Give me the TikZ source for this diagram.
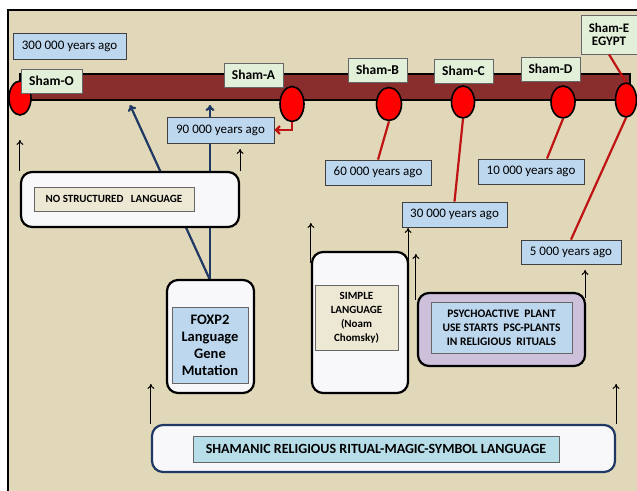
\documentclass[tikz,border=0pt]{standalone}
\usepackage{fontspec}
\setmainfont{Carlito}
\usetikzlibrary{shapes.geometric,calc,arrows.meta}
\definecolor{bgbeige}{RGB}{224,216,184}
\definecolor{barred}{RGB}{137,45,45}
\definecolor{lgreen}{RGB}{226,239,217}
\definecolor{lblue}{RGB}{189,215,238}
\definecolor{lcyan}{RGB}{183,222,232}
\definecolor{lav}{RGB}{204,192,218}
\definecolor{navy}{RGB}{31,56,100}
\definecolor{linered}{RGB}{192,20,20}
\definecolor{boxwhite}{RGB}{248,248,250}
\tikzset{
  shamlbl/.style={draw=gray!80!black, line width=0.8pt, fill=lgreen, font=\bfseries\fontsize{13.5}{14}\selectfont, inner sep=0pt, align=center},
  yearlbl/.style={draw=black!75, line width=0.8pt, fill=lblue, font=\fontsize{13}{14}\selectfont, inner sep=0pt},
  dot/.style={ellipse, draw=black, line width=1.6pt, fill=red, inner sep=0pt},
  outerbox/.style={draw=black, line width=2.2pt, fill=boxwhite, rounded corners=11pt, inner sep=0pt},
  innerbox/.style={draw=black!60, line width=0.8pt, inner sep=0pt, align=center, font=\bfseries},
  uparrow/.style={-{To[length=5pt,width=7pt]}, line width=1pt, black},
  bluearrow/.style={-{To[length=6pt,width=9pt]}, line width=2.2pt, navy},
  redline/.style={line width=2.2pt, linered}
}
\begin{document}
\begin{tikzpicture}[x=1pt,y=-1pt]
\useasboundingbox (0,0) rectangle (637,490);
\fill[white] (0,0) rectangle (637,490);
\fill[bgbeige] (8,10) rectangle (640,495);
\draw[line width=2pt] (8,492) -- (8,10) -- (640,10);

% timeline bar
\draw[fill=barred, line width=2pt] (20,74) rectangle (630,100);

% circles
\node[dot, minimum width=22pt, minimum height=34pt] (cO) at (20,98) {};
\node[dot, minimum width=24pt, minimum height=35pt] (cA) at (292,104) {};
\node[dot, minimum width=25pt, minimum height=33pt] (cB) at (389,104) {};
\node[dot, minimum width=23pt, minimum height=32pt] (cC) at (463,102) {};
\node[dot, minimum width=24pt, minimum height=32pt] (cD) at (563,102) {};
\node[dot, minimum width=21pt, minimum height=34pt] (cE) at (626,100) {};

% sham labels
\node[shamlbl, minimum width=61pt, minimum height=24pt] (sO) at (51.5,81) {Sham-O};
\node[shamlbl, minimum width=59pt, minimum height=24pt] (sA) at (253.5,75) {Sham-A};
\node[shamlbl, minimum width=59pt, minimum height=24pt] (sB) at (377.5,70) {Sham-B};
\node[shamlbl, minimum width=59pt, minimum height=24pt] (sC) at (463.5,71) {Sham-C};
\node[shamlbl, minimum width=59pt, minimum height=24pt] (sD) at (550.5,69) {Sham-D};
\node[shamlbl, minimum width=56pt, minimum height=39pt, font=\bfseries\fontsize{13}{13}\selectfont] (sE) at (609,34.5) {Sham-E\\EGYPT};

% blue arrows (behind boxes)
\coordinate (bt1) at (130,105);
\coordinate (bt2) at (210,105);
\coordinate (fxtop) at (210,280);
\draw[bluearrow] (fxtop) -- (bt1);
\draw[bluearrow] (fxtop) -- (bt2);

% year labels
\node[yearlbl, minimum width=113pt, minimum height=26pt] (y300) at (69.5,46) {300 000 years ago};
\node[yearlbl, minimum width=107pt, minimum height=26pt] (y90) at (220.5,130) {90 000 years ago};
\node[yearlbl, minimum width=106pt, minimum height=25pt] (y60) at (378,172.5) {60 000 years ago};
\node[yearlbl, minimum width=106pt, minimum height=25pt] (y10) at (531,171.5) {10 000 years ago};
\node[yearlbl, minimum width=105pt, minimum height=25pt] (y30) at (454.5,214.5) {30 000 years ago};
\node[yearlbl, minimum width=100pt, minimum height=24pt] (y5) at (571,252) {5 000 years ago};

% red connectors
\draw[redline, -{Straight Barb[length=4pt,width=8pt]}] (cA.south) |- (y90.east);
\draw[redline] (cB.south) -- (y60.north);
\draw[redline] (cC.south) -- (y30.north);
\draw[redline] (cD.south) -- ($(y10.north)+(16,0)$);
\draw[redline] (cE.south) -- (y5.north);
\draw[redline] (sE.south) -- (cE.north);

% boxes
\node[outerbox, minimum width=218pt, minimum height=55pt] (noS) at (130,199.5) {};
\node[innerbox, fill=bgbeige!60!white, minimum width=160pt, minimum height=24pt, font=\bfseries\fontsize{11}{12}\selectfont] (noSi) at (114,199) {NO STRUCTURED\ \ \ LANGUAGE};

\node[outerbox, minimum width=87pt, minimum height=113pt] (fox) at (210.5,336.5) {};
\node[innerbox, fill=lblue, minimum width=76pt, minimum height=76pt, font=\bfseries\fontsize{14.5}{17}\selectfont] (foxi) at (210,345) {FOXP2\\Language\\Gene\\Mutation};

\node[outerbox, minimum width=96pt, minimum height=141pt] (simp) at (360,322.5) {};
\node[innerbox, fill=bgbeige!60!white, minimum width=83pt, minimum height=65pt, font=\bfseries\fontsize{11}{14}\selectfont] (simpi) at (356.5,317.5) {SIMPLE\\LANGUAGE\\(Noam\\Chomsky)};

\node[outerbox, fill=lav, minimum width=167pt, minimum height=73pt] (psy) at (501.5,329.5) {};
\node[innerbox, fill=lblue, minimum width=141pt, minimum height=51pt, font=\bfseries\fontsize{11.5}{14}\selectfont] (psyi) at (501.5,327.5) {PSYCHOACTIVE\ \ PLANT\\USE STARTS\ \ PSC-PLANTS\\IN RELIGIOUS\ \ RITUALS};

\node[outerbox, draw=navy, minimum width=463pt, minimum height=47pt] (sham) at (383.5,448.5) {};
\node[innerbox, fill=lcyan, minimum width=366pt, minimum height=26pt, font=\bfseries\fontsize{14}{15}\selectfont] (shami) at (376,449) {SHAMANIC RELIGIOUS RITUAL-MAGIC-SYMBOL LANGUAGE};

% black up arrows
\draw[uparrow] (noS.north west) -- ++(0,-31);
\draw[uparrow] (noS.north east) -- ++(0,-22);
\draw[uparrow] ($(simp.north west)+(0,12)$) -- ++(0,-40);
\draw[uparrow] ($(simp.north east)+(-1,10)$) -- ++(0,-33);
\draw[uparrow] ($(psy.north west)+(-1,8)$) -- ++(0,-46);
\draw[uparrow] ($(psy.north east)+(-1,6)$) -- ++(0,-28);
\draw[uparrow] (sham.north west) -- ++(0,-40);
\draw[uparrow] (sham.north east) -- ++(0,-40);
\end{tikzpicture}
\end{document}
